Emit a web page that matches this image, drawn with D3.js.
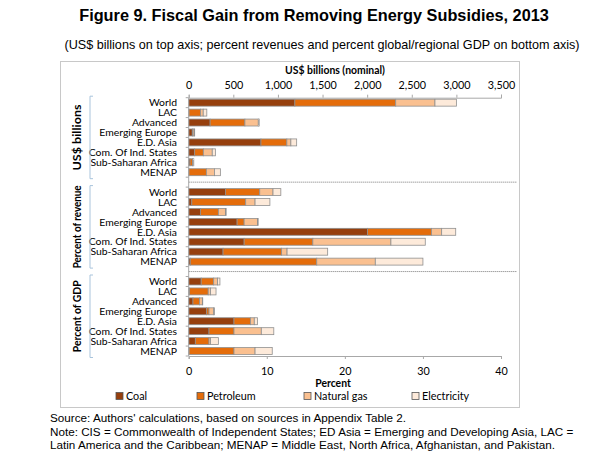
<!DOCTYPE html>
<html><head><meta charset="utf-8">
<script src="https://cdn.jsdelivr.net/npm/d3@7"></script>
<style>body{margin:0;background:#fff}</style></head>
<body><svg id="c" width="590" height="452"></svg>
<script>
const regions = ["World","LAC","Advanced","Emerging Europe","E.D. Asia","Com. Of Ind. States","Sub-Saharan Africa","MENAP"];
const sections = ["US$ billions","Percent of revenue","Percent of GDP"];
const fuels = ["Coal","Petroleum","Natural gas","Electricity"];
// US$ billions (top axis)
const usdCoal        = [1190,   3, 240, 40, 810,  67, 15,   2];
const usdPetroleum   = [1130, 130, 390,  8, 290,  97, 28, 196];
const usdGas         = [ 440,  30, 150, 14,  45, 100,  4,  90];
const usdElectricity = [ 240,  40,  10,  5,  65,  35, 10,  67];
// Percent of revenue (bottom axis)
const revCoal        = [4.7, 0.4, 1.5, 6.2, 22.9,  7.1, 4.4,  0.2];
const revPetroleum   = [4.4, 6.9, 2.3, 0.9,  8.2,  8.8, 7.5, 16.2];
const revGas         = [1.7, 1.2, 0.9, 1.7,  1.3, 10.0, 0.7,  7.5];
const revElectricity = [1.0, 1.9, 0.1, 0.1,  1.8,  4.4, 5.2,  6.1];
// Percent of GDP (bottom axis)
const gdpCoal        = [1.6, 0.1, 0.55, 2.3, 5.8, 2.6, 0.85, 0.05];
const gdpPetroleum   = [1.6, 2.4, 0.85, 0.3, 2.1, 3.2, 1.75, 5.75];
const gdpGas         = [0.5, 0.3, 0.35, 0.6, 0.5, 3.5, 0.2,  2.7];
const gdpElectricity = [0.3, 0.7, 0.05, 0.1, 0.4, 1.6, 1.0,  2.2];
const topTicks = [0,500,1000,1500,2000,2500,3000,3500];
const bottomTicks = [0,10,20,30,40];

const colors = ["#963f0d","#e46c0a","#fac090","#fdeada"];
const svg = d3.select("#c");
const labelFont = "Lato, 'Open Sans', sans-serif";
const lblSize = 10.4;

const sectionData = [
  [usdCoal, usdPetroleum, usdGas, usdElectricity],
  [revCoal, revPetroleum, revGas, revElectricity],
  [gdpCoal, gdpPetroleum, gdpGas, gdpElectricity]
];

const keys = [];
sections.forEach((s, si) => {
  regions.forEach(r => keys.push(s + "|" + r));
  if (si < sections.length - 1) keys.push("gap" + si);
});

const x0 = 188.7, x1 = 501;
const xTop = d3.scaleLinear().domain([0, 3500]).range([x0, x1]);
const xBot = d3.scaleLinear().domain([0, 40]).range([x0, x1]);
const y = d3.scaleBand().domain(keys).range([97.7, 356]).paddingInner(0.3).paddingOuter(0.15);

svg.append("rect").attr("x", 60.5).attr("y", 61.5).attr("width", 459).attr("height", 346)
  .attr("fill", "none").attr("stroke", "#c8c8c8");

svg.append("text").attr("x", 314).attr("y", 21).attr("text-anchor", "middle")
  .attr("font-family", "Liberation Sans, Arial, sans-serif").attr("font-weight", "bold").attr("font-size", 16.3)
  .text("Figure 9. Fiscal Gain from Removing Energy Subsidies, 2013");
svg.append("text").attr("x", 322).attr("y", 49).attr("text-anchor", "middle")
  .attr("font-family", "Liberation Sans, Arial, sans-serif").attr("font-size", 12.6)
  .text("(US$ billions on top axis; percent revenues and percent global/regional GDP on bottom axis)");

sectionData.forEach((series, si) => {
  const xs = si === 0 ? xTop : xBot;
  regions.forEach((r, ri) => {
    let acc = 0;
    series.forEach((arr, fi) => {
      const v = arr[ri];
      svg.append("rect")
        .attr("x", xs(acc)).attr("y", y(sections[si] + "|" + r))
        .attr("width", Math.max(0, xs(acc + v) - xs(acc))).attr("height", y.bandwidth())
        .attr("fill", colors[fi]).attr("stroke", "#8f8f8f").attr("stroke-width", 0.8);
      acc += v;
    });
  });
});

["gap0", "gap1"].forEach(g => {
  const yy = y(g) + y.bandwidth() / 2;
  svg.append("line").attr("x1", x0).attr("x2", 517).attr("y1", yy).attr("y2", yy)
    .attr("stroke", "#777").attr("stroke-dasharray", "1,1");
});

const axStyle = g => {
  g.selectAll("path,line").attr("stroke", "#a8a8a8");
  g.selectAll("text").attr("font-family", labelFont).attr("font-size", lblSize + 0.4).attr("fill", "#000");
};
svg.append("g").attr("transform", "translate(0,97.7)")
  .call(d3.axisTop(xTop).tickValues(topTicks).tickFormat(d3.format(",")).tickSizeInner(3).tickSizeOuter(3).tickPadding(6))
  .call(axStyle);
svg.append("g").attr("transform", "translate(0,356)")
  .call(d3.axisBottom(xBot).tickValues(bottomTicks).tickSizeInner(3).tickSizeOuter(3).tickPadding(8))
  .call(axStyle);
const step = y.step();
const yStart = y.range()[0];
const boundaries = d3.range(keys.length + 1).map(i => yStart + i * step);
svg.append("line").attr("x1", x0).attr("x2", x0).attr("y1", 97.7).attr("y2", 356).attr("stroke", "#a8a8a8");
svg.selectAll(".lt").data(boundaries).enter().append("line")
  .attr("x1", x0 - 3).attr("x2", x0).attr("y1", d => d).attr("y2", d => d).attr("stroke", "#a8a8a8");

keys.filter(k => !k.startsWith("gap")).forEach(k => {
  svg.append("text").attr("x", 177).attr("y", y(k) + y.bandwidth() / 2).attr("dy", "0.36em")
    .attr("text-anchor", "end").attr("font-family", labelFont).attr("font-size", lblSize)
    .text(k.split("|")[1]);
});

const secLen = [66, 83, 72];
sections.forEach((s, si) => {
  const ya = y(s + "|" + regions[0]) - 3;
  const yb = y(s + "|" + regions[regions.length - 1]) + y.bandwidth() + 3;
  svg.append("path").attr("d", `M93,${ya}H90V${yb}H93`).attr("fill", "none").attr("stroke", "#a9c4dc");
  const cy = (ya + yb) / 2;
  svg.append("text").attr("transform", `translate(77,${cy}) rotate(-90)`).attr("text-anchor", "middle")
    .attr("dy", "0.36em").attr("font-family", labelFont).attr("font-weight", "bold").attr("font-size", 11)
    .attr("textLength", secLen[si]).attr("lengthAdjust", "spacingAndGlyphs")
    .text(s);
});

svg.append("text").attr("x", 335).attr("y", 74).attr("text-anchor", "middle")
  .attr("font-family", labelFont).attr("font-weight", "bold").attr("font-size", lblSize).text("US$ billions (nominal)");
svg.append("text").attr("x", 333).attr("y", 387).attr("text-anchor", "middle")
  .attr("font-family", labelFont).attr("font-weight", "bold").attr("font-size", lblSize).text("Percent");

const legX = [116, 197, 304, 412];
fuels.forEach((f, i) => {
  svg.append("rect").attr("x", legX[i]).attr("y", 392.5).attr("width", 7).attr("height", 7)
    .attr("fill", colors[i]).attr("stroke", "#555").attr("stroke-width", 0.8);
  svg.append("text").attr("x", legX[i] + 10).attr("y", 396).attr("dy", "0.36em")
    .attr("font-family", labelFont).attr("font-size", lblSize + 0.4).text(f);
});

const notes = [
  "Source: Authors' calculations, based on sources in Appendix Table 2.",
  "Note: CIS = Commonwealth of Independent States; ED Asia = Emerging and Developing Asia, LAC =",
  "Latin America and the Caribbean; MENAP = Middle East, North Africa, Afghanistan, and Pakistan."
];
notes.forEach((t, i) => {
  svg.append("text").attr("x", 50).attr("y", 422 + i * 13.5)
    .attr("font-family", "Liberation Sans, Arial, sans-serif").attr("font-size", 11.7).text(t);
});
</script></body></html>
